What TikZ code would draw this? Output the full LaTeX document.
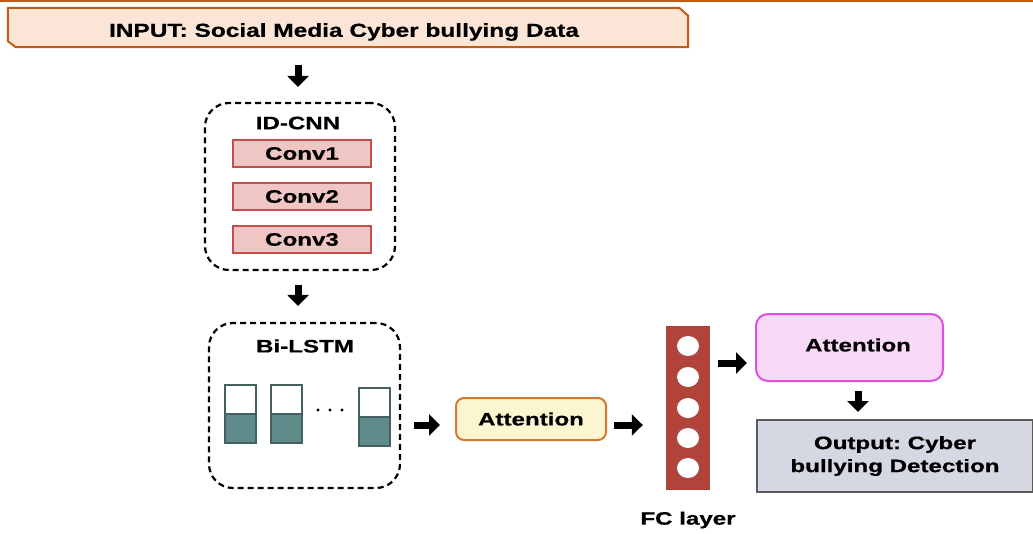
\documentclass[tikz,border=0pt]{standalone}
\usepackage{fontspec}
\setmainfont[FakeStretch=1.34, BoldFeatures={FakeBold=0.6}]{Liberation Sans}
\newfontfamily\inputfont[FakeStretch=1.30, BoldFeatures={FakeBold=0.6}]{Liberation Sans}
\usetikzlibrary{arrows.meta}
\definecolor{orng}{HTML}{C55A11}
\definecolor{infill}{HTML}{FBE5D6}
\definecolor{convfill}{HTML}{F0C6C4}
\definecolor{convdraw}{HTML}{C0504D}
\definecolor{teal}{HTML}{5F8C8B}
\definecolor{tealdraw}{HTML}{44605F}
\definecolor{attfill}{HTML}{FBF5D0}
\definecolor{attdraw}{HTML}{D9782A}
\definecolor{fcred}{HTML}{B0433A}
\definecolor{att2fill}{HTML}{F8DAF8}
\definecolor{att2draw}{HTML}{E050E0}
\definecolor{outfill}{HTML}{D5D8E3}
\definecolor{outdraw}{HTML}{5A5A5A}
\tikzset{
  txt/.style={font=\fontsize{18}{23}\selectfont\bfseries\frenchspacing},
  lbl/.style={txt, inner sep=0pt},
  dashbox/.style={draw=black, line width=2.2pt, dash pattern=on 6pt off 4pt, rounded corners=24pt, inner sep=0pt},
  convbox/.style={txt, draw=convdraw, fill=convfill, line width=2pt, minimum width=138pt, minimum height=27pt, inner sep=0pt},
  cellbox/.style={draw=tealdraw, line width=2pt, inner sep=0pt},
  blockarrow/.style={line width=7pt, -{Triangle[width=21pt,length=11pt]}},
}
\begin{document}
\begin{tikzpicture}[x=1pt,y=-1pt]
\useasboundingbox (0,0) rectangle (1033,533);
\draw[orng, line width=2pt] (0,1) -- (1033,1);
% input
\node[minimum width=680pt, minimum height=39pt, inner sep=0pt] (input) at (348,27.5) {};
\draw[draw=orng, fill=infill, line width=2pt]
  (input.north west) -- ([xshift=-9pt]input.north east) -- ([yshift=-8pt]input.north east)
  -- (input.south east) -- ([xshift=8pt]input.south west) -- ([yshift=6pt]input.south west) -- cycle;
\node[inner sep=0pt, font=\inputfont\fontsize{18.8}{23}\selectfont\bfseries] (intext) at (344,32) {INPUT: Social Media Cyber bullying Data};
% ID-CNN
\node[dashbox, minimum width=190pt, minimum height=167pt] (cnn) at (300,186.5) {};
\node[lbl] (cnntitle) at (298,123) {ID-CNN};
\node[convbox] (conv1) at (302,153.5) {Conv1};
\node[convbox] (conv2) at (302,196.5) {Conv2};
\node[convbox] (conv3) at (302,239.5) {Conv3};
% Bi-LSTM
\node[dashbox, minimum width=191pt, minimum height=165pt] (lstm) at (304.5,405.5) {};
\node[lbl] (lstmtitle) at (305,346) {Bi-LSTM};
\foreach \n/\x/\y in {c1/240.5/414, c2/286.5/414, c3/374/416.5}{
  \fill[teal] (\x-15.5,\y) rectangle (\x+15.5,\y+29);
  \draw[tealdraw, line width=2pt] (\x-15.5,\y) -- (\x+15.5,\y);
  \node[cellbox, minimum width=31pt, minimum height=58pt] (\n) at (\x,\y) {};
}
\foreach \x in {318,330,342}{ \fill (\x,410) circle [radius=1.6pt]; }
% attention 1
\node[txt, draw=attdraw, fill=attfill, line width=2pt, rounded corners=8pt, minimum width=150pt, minimum height=42pt, inner sep=0pt] (att1) at (531,419) {Attention};
% FC
\node[fill=fcred, minimum width=44pt, minimum height=164pt, inner sep=0pt] (fc) at (688,408) {};
\foreach \i/\y in {1/346,2/377,3/408,4/438,5/468}{
  \fill[white] (688,\y) ellipse [x radius=11pt, y radius=10pt];
}
\node[lbl] (fclabel) at (688,520) {FC layer};
% attention 2
\node[draw=att2draw, fill=att2fill, line width=2pt, rounded corners=12pt, minimum width=187pt, minimum height=67pt, inner sep=0pt] (att2) at (849.5,347.5) {};
\node[lbl] (att2text) at (858,345) {Attention};
% output
\node[txt, draw=outdraw, fill=outfill, line width=2pt, minimum width=276pt, minimum height=72pt, inner sep=0pt, align=center] (out) at (895,456) {Output: Cyber\\bullying Detection};
% arrows
\draw[blockarrow, shorten <=18pt, shorten >=15pt] (input.south -| cnntitle) -- (cnntitle |- cnn.north);
\draw[blockarrow, shorten <=14pt, shorten >=16pt] (cnntitle |- cnn.south) -- (cnntitle |- lstm.north);
\draw[blockarrow, shorten <=13pt, shorten >=15pt] ([yshift=-6pt]lstm.east |- att1) -- ([yshift=-6pt]att1.west);
\draw[blockarrow, shorten <=7pt, shorten >=23pt] ([yshift=-6pt]att1.east) -- ([yshift=-6pt]fc.west |- att1);
\draw[blockarrow, shorten <=8pt, shorten >=8pt] (fc.east |- 0,363) -- (att2.west |- 0,363);
\draw[blockarrow, shorten <=9pt, shorten >=7pt] (att2text |- att2.south) -- (att2text |- out.north);
\end{tikzpicture}
\end{document}
